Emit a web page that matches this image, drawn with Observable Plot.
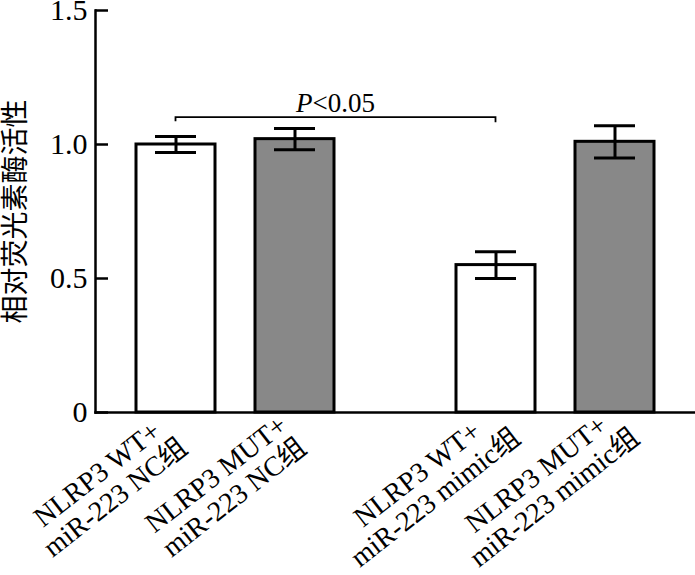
<!DOCTYPE html>
<html>
<head>
<meta charset="utf-8">
<script src="https://cdn.jsdelivr.net/npm/d3@7"></script>
<script src="https://cdn.jsdelivr.net/npm/@observablehq/plot@0.6"></script>
<style>
  html, body { margin: 0; padding: 0; background: #fff; }
  svg { display: block; }
</style>
</head>
<body>
<div id="chart"></div>
<script>
// ---- data ----
const groups = ["NC组", "NC组", "mimic组", "mimic组"];
const types = ["WT", "MUT", "WT", "MUT"];
const labels = [
  "NLRP3 WT+\nmiR-223 NC组",
  "NLRP3 MUT+\nmiR-223 NC组",
  "NLRP3 WT+\nmiR-223 mimic组",
  "NLRP3 MUT+\nmiR-223 mimic组"
];
const values = [1.00, 1.02, 0.55, 1.01];
const errors = [0.03, 0.04, 0.05, 0.06];
const yTicks = [0, 0.5, 1.0, 1.5];
const yLabel = "相对荧光素酶活性";
const sigLabel = "P<0.05";
const sigLevel = 1.1;

const groupDomain = ["NC组", "mimic组"];
const typeDomain = ["WT", "MUT"];

const data = values.map((v, i) => ({
  group: groups[i], type: types[i], label: labels[i],
  value: v, lo: v - errors[i], hi: v + errors[i]
}));

const serif = "'Liberation Serif', 'Times New Roman', 'Noto Sans CJK SC', serif";
const cjk = "'Noto Sans CJK SC', sans-serif";

const chart = Plot.plot({
  width: 695,
  height: 575,
  marginTop: 10,
  marginBottom: 163,
  marginLeft: 95,
  marginRight: 0,
  style: {fontFamily: serif, color: "black", background: "white"},
  fx: {domain: groupDomain, paddingInner: 0.125, paddingOuter: 0, axis: null},
  x: {domain: typeDomain, paddingInner: 1/3, paddingOuter: 1/3, axis: null},
  y: {domain: [0, 1.5], axis: null},
  color: {domain: typeDomain, range: ["white", "#888888"]},
  marks: [
    Plot.barY(data, {fx: "group", x: "type", y: "value", fill: "type",
      stroke: "black", strokeWidth: 3, strokeLinejoin: "miter"}),
    Plot.ruleX(data, {fx: "group", x: "type", y1: "lo", y2: "hi",
      stroke: "black", strokeWidth: 3}),
    Plot.tickY(data, {fx: "group", x: "type", y: "lo", inset: 19, stroke: "black", strokeWidth: 3}),
    Plot.tickY(data, {fx: "group", x: "type", y: "hi", inset: 19, stroke: "black", strokeWidth: 3}),
    Plot.text(data, {fx: "group", x: "type", frameAnchor: "bottom", text: "label",
      rotate: -38, textAnchor: "middle", lineAnchor: "middle", lineHeight: 1.05,
      dx: -70, dy: 73, fontSize: 28, fill: "black"}),
    Plot.frame({anchor: "bottom", facet: "super", stroke: "black", strokeWidth: 2.5}),
    Plot.frame({anchor: "left", facet: "super", stroke: "black", strokeWidth: 2.5}),
    Plot.axisY({ticks: yTicks, tickFormat: d => d === 0 ? "0" : d3.format(".1f")(d),
      tickSize: -13, tickPadding: 21, strokeWidth: 2.5, fontSize: 30, label: null}),
    Plot.text([yLabel], {facet: "super", frameAnchor: "left", text: d => d,
      textAnchor: "middle", lineAnchor: "middle",
      rotate: -90, dx: -79, fontSize: 28, fontFamily: cjk, fill: "black"}),
    Plot.text([sigLabel], {facet: "super", frameAnchor: "middle", text: d => d,
      render(index, scales, values, dims) {
      const {x, y, fx} = scales;
      const bw = x.bandwidth();
      const off = g => fx(g) - dims.marginLeft;
      const xa = off(groupDomain[0]) + x(typeDomain[0]) + bw / 2;
      const xb = off(groupDomain[1]) + x(typeDomain[0]) + bw / 2;
      const yy = y(sigLevel);
      const g = d3.create("svg:g");
      g.append("path")
        .attr("d", `M${xa},${yy + 4}V${yy}H${xb}V${yy + 5}`)
        .attr("fill", "none").attr("stroke", "black").attr("stroke-width", 1.8);
      const t = g.append("text")
        .attr("x", (xa + xb) / 2).attr("y", yy - 5)
        .attr("text-anchor", "middle")
        .attr("font-size", 27).attr("font-family", serif).attr("fill", "black");
      t.append("tspan").attr("font-style", "italic").text(sigLabel.slice(0, 1));
      t.append("tspan").text(sigLabel.slice(1));
      return g.node();
    }})
  ]
});

document.getElementById("chart").appendChild(chart);
</script>
</body>
</html>
